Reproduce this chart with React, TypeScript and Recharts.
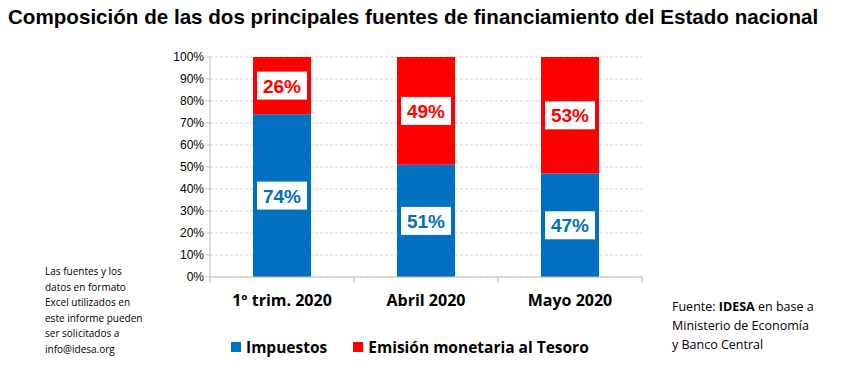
import { BarChart, Bar, XAxis, YAxis, CartesianGrid, LabelList } from 'recharts'

const periods = ['1º trim. 2020', 'Abril 2020', 'Mayo 2020']
const impuestos = [74, 51, 47]
const emision = [26, 49, 53]
const yTicks = [0, 10, 20, 30, 40, 50, 60, 70, 80, 90, 100]

const data = periods.map((p, i) => ({ periodo: p, impuestos: impuestos[i], emision: emision[i] }))

const BLUE = '#0070c0'
const RED = '#ff0000'
const HALF_BAND = 72

const series = [
  { key: 'impuestos', name: 'Impuestos', color: BLUE },
  { key: 'emision', name: 'Emisión monetaria al Tesoro', color: RED },
]

const CatTick = (props: any) => {
  const { x, y, payload, index } = props
  return (
    <g>
      <line x1={x - HALF_BAND} x2={x - HALF_BAND} y1={y} y2={y + 6} stroke="#bfbfbf" />
      {index === periods.length - 1 && (
        <line x1={x + HALF_BAND} x2={x + HALF_BAND} y1={y} y2={y + 6} stroke="#bfbfbf" />
      )}
      <text
        x={x}
        y={y + 29}
        textAnchor="middle"
        fontFamily="Open Sans"
        fontWeight="bold"
        fontSize={16}
        fill="#000"
      >
        {payload.value}
      </text>
    </g>
  )
}

const boxLabel = (color: string) => (props: any) => {
  const { x, y, width, height, value } = props
  const cx = x + width / 2
  const cy = y + height / 2
  return (
    <g>
      <rect x={cx - 25} y={cy - 14} width={50} height={28} fill="#fff" />
      <text
        x={cx}
        y={cy + 7}
        textAnchor="middle"
        fontFamily="Liberation Sans, Arial"
        fontWeight="bold"
        fontSize={19}
        fill={color}
      >
        {value}%
      </text>
    </g>
  )
}

const App = () => {
  return (
    <div style={{ position: 'absolute', left: 0, top: 0, width: 850, height: 368, background: '#fff' }}>
      <div
        style={{
          position: 'absolute',
          left: 8,
          top: 5,
          fontFamily: 'Liberation Sans, Arial',
          fontWeight: 'bold',
          fontSize: 20.6,
          whiteSpace: 'nowrap',
        }}
      >
        Composición de las dos principales fuentes de financiamiento del Estado nacional
      </div>
      <BarChart
        width={850}
        height={368}
        data={data}
        margin={{ top: 57, right: 208, bottom: 61, left: 150 }}
      >
        <CartesianGrid vertical={false} stroke="#d4d4d4" strokeDasharray="3 2" />
        <XAxis
          dataKey="periodo"
          height={30}
          tickLine={false}
          tickSize={0}
          tickMargin={0}
          stroke="#bfbfbf"
          tick={<CatTick />}
          interval={0}
        />
        <YAxis
          width={60}
          domain={[0, 100]}
          ticks={yTicks}
          interval={0}
          tickFormatter={(v: number) => `${v}%`}
          stroke="#bfbfbf"
          tickSize={4}
          tick={{ fill: '#000', fontSize: 12, fontFamily: 'Liberation Sans, Arial' }}
        />
        {series.map((s) => (
          <Bar
            key={s.key}
            dataKey={s.key}
            name={s.name}
            stackId="a"
            fill={s.color}
            barSize={58}
            isAnimationActive={false}
          >
            <LabelList dataKey={s.key} content={boxLabel(s.color)} />
          </Bar>
        ))}
      </BarChart>
      <div
        style={{
          position: 'absolute',
          left: 231,
          top: 336,
          display: 'flex',
          fontFamily: 'Open Sans',
          fontWeight: 'bold',
          fontSize: 15.5,
          whiteSpace: 'nowrap',
        }}
      >
        {series.map((s) => (
          <div key={s.key} style={{ display: 'flex', alignItems: 'center', marginRight: 26 }}>
            <span style={{ width: 10, height: 10, background: s.color, marginRight: 5, display: 'inline-block' }} />
            <span>{s.name}</span>
          </div>
        ))}
      </div>
      <div
        style={{
          position: 'absolute',
          left: 45,
          top: 264,
          width: 120,
          fontFamily: 'Open Sans',
          fontSize: 10,
          lineHeight: '15.5px',
          color: '#000',
        }}
      >
        Las fuentes y los<br />datos en formato<br />Excel utilizados en<br />este informe pueden<br />ser solicitados a<br />info@idesa.org
      </div>
      <div
        style={{
          position: 'absolute',
          left: 672,
          top: 297,
          fontFamily: 'Open Sans',
          fontSize: 12.5,
          lineHeight: '19px',
          color: '#000',
          whiteSpace: 'nowrap',
        }}
      >
        Fuente: <b>IDESA</b> en base a<br />Ministerio de Economía<br />y Banco Central
      </div>
    </div>
  )
}

export default App
